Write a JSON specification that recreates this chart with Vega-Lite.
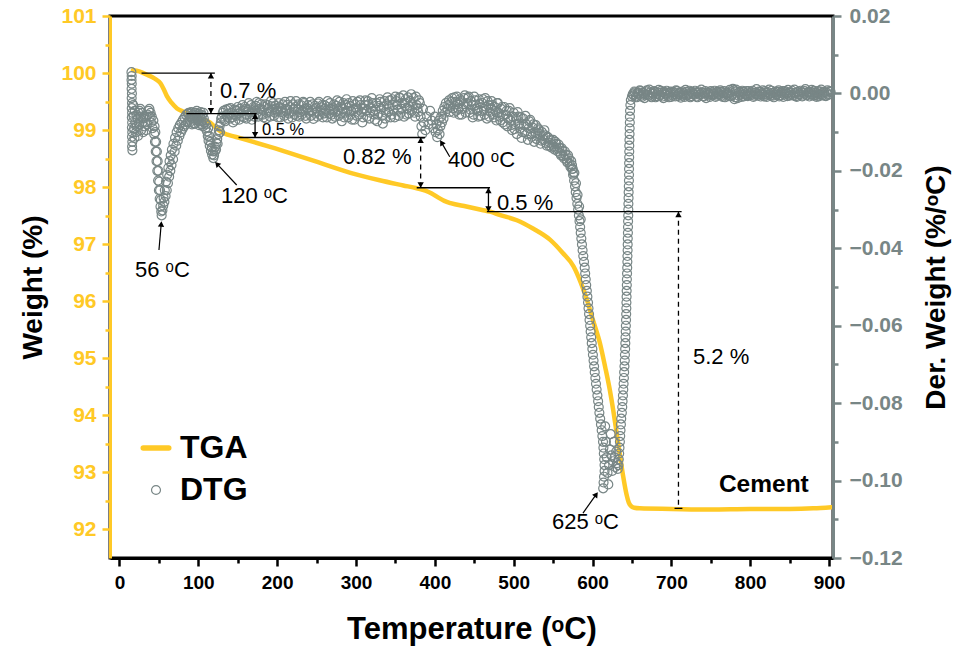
{
"$schema": "https://vega.github.io/schema/vega-lite/v6.json",
"width": 723, "height": 542,
"autosize": {"type": "none"},
"padding": {"left": 110, "top": 16, "right": 124, "bottom": 100},
"background": "white",
"config": {"view": {"stroke": "black", "strokeWidth": 3}, "font": "Liberation Sans"},
"datasets": {
"tga": [{"T":17,"w":100.05},{"T":25,"w":100.03},{"T":35,"w":99.97},{"T":45,"w":99.9},{"T":52,"w":99.82},{"T":56,"w":99.72},{"T":60,"w":99.6},{"T":66,"w":99.48},{"T":73,"w":99.38},{"T":80,"w":99.33},{"T":86,"w":99.3},{"T":95,"w":99.25},{"T":103,"w":99.21},{"T":110,"w":99.17},{"T":115,"w":99.13},{"T":120,"w":99.07},{"T":125,"w":99.01},{"T":130,"w":98.96},{"T":137,"w":98.92},{"T":145,"w":98.89},{"T":153,"w":98.86},{"T":190,"w":98.71},{"T":229,"w":98.54},{"T":260,"w":98.4},{"T":293,"w":98.25},{"T":330,"w":98.12},{"T":360,"w":98.03},{"T":377,"w":97.98},{"T":388,"w":97.94},{"T":396,"w":97.89},{"T":404,"w":97.82},{"T":412,"w":97.76},{"T":420,"w":97.72},{"T":440,"w":97.66},{"T":460,"w":97.6},{"T":470,"w":97.57},{"T":483,"w":97.51},{"T":504,"w":97.42},{"T":525,"w":97.27},{"T":546,"w":97.08},{"T":562,"w":96.85},{"T":576,"w":96.61},{"T":585,"w":96.33},{"T":593,"w":96.02},{"T":601,"w":95.65},{"T":609.5,"w":95.26},{"T":616,"w":94.85},{"T":622,"w":94.44},{"T":626.5,"w":94.07},{"T":630.6,"w":93.69},{"T":635,"w":93.28},{"T":639,"w":92.92},{"T":643,"w":92.62},{"T":646,"w":92.47},{"T":649,"w":92.41},{"T":653,"w":92.38},{"T":660,"w":92.37},{"T":700,"w":92.36},{"T":750,"w":92.35},{"T":800,"w":92.36},{"T":850,"w":92.36},{"T":880,"w":92.37},{"T":903,"w":92.39}],
"dtg": [
{"T":15.2,"d":0.0055},{"T":15.5,"d":0.0045},{"T":15.3,"d":0.0035},{"T":15.6,"d":0.0025},{"T":15.4,"d":0.0012},{"T":15.8,"d":0.0},{"T":15.5,"d":-0.0012},{"T":15.9,"d":-0.0025},{"T":15.6,"d":-0.0038},{"T":16.0,"d":-0.005},{"T":15.7,"d":-0.0062},{"T":16.1,"d":-0.0075},{"T":15.8,"d":-0.0088},{"T":16.2,"d":-0.01},{"T":15.9,"d":-0.0112},{"T":16.3,"d":-0.0125},{"T":16.0,"d":-0.0137},{"T":16.4,"d":-0.0147},
{"T":17.5,"d":-0.003},{"T":18,"d":-0.006},{"T":18.5,"d":-0.009},{"T":19,"d":-0.0115},{"T":19.5,"d":-0.0045},{"T":20,"d":-0.0075},{"T":21,"d":-0.01},{"T":21.5,"d":-0.0055},{"T":22,"d":-0.0085},{"T":23,"d":-0.0065},{"T":23.5,"d":-0.011},{"T":24,"d":-0.005},{"T":25,"d":-0.008},{"T":25.5,"d":-0.0045},{"T":26.5,"d":-0.004},{"T":27,"d":-0.006},{"T":27.5,"d":-0.0095},{"T":28.5,"d":-0.005},{"T":29,"d":-0.0075},{"T":30,"d":-0.01},{"T":30.5,"d":-0.0065},{"T":31.5,"d":-0.0085},{"T":32,"d":-0.006},{"T":33,"d":-0.0075},{"T":34,"d":-0.0095},{"T":34.5,"d":-0.006},{"T":35.5,"d":-0.008},{"T":36,"d":-0.0055},{"T":37,"d":-0.0045},{"T":38,"d":-0.004},{"T":38.5,"d":-0.006},{"T":39.5,"d":-0.005},{"T":40,"d":-0.0075},{"T":41,"d":-0.006},{"T":42,"d":-0.009},{"T":43,"d":-0.007},
{"T":44,"d":-0.0105},{"T":44.5,"d":-0.0085},{"T":45,"d":-0.0125},{"T":45.5,"d":-0.01},{"T":46,"d":-0.015},{"T":46.5,"d":-0.0125},{"T":47,"d":-0.0175},{"T":47.5,"d":-0.015},{"T":48,"d":-0.02},{"T":48.5,"d":-0.0175},{"T":49,"d":-0.0225},{"T":49.5,"d":-0.02},{"T":50,"d":-0.025},{"T":50.5,"d":-0.0228},{"T":51,"d":-0.0272},{"T":51.5,"d":-0.025},{"T":52,"d":-0.0292},{"T":52.5,"d":-0.0275},{"T":53,"d":-0.0305},{"T":53.5,"d":-0.0315},{"T":54.5,"d":-0.0302},
{"T":55.5,"d":-0.029},{"T":56,"d":-0.027},{"T":57,"d":-0.028},{"T":57.5,"d":-0.025},{"T":58.5,"d":-0.0265},{"T":59,"d":-0.0228},{"T":60,"d":-0.025},{"T":60.5,"d":-0.021},{"T":61.5,"d":-0.0232},{"T":62,"d":-0.0192},{"T":63,"d":-0.0215},{"T":63.5,"d":-0.0175},{"T":64.5,"d":-0.02},{"T":65,"d":-0.016},{"T":66,"d":-0.0185},{"T":66.5,"d":-0.0145},{"T":68,"d":-0.017},{"T":68.5,"d":-0.013},{"T":70,"d":-0.015},{"T":70.5,"d":-0.0115},{"T":72,"d":-0.0135},{"T":72.5,"d":-0.01},{"T":74,"d":-0.0122},{"T":74.5,"d":-0.009},{"T":76,"d":-0.011},{"T":76.5,"d":-0.0082},{"T":78,"d":-0.01},{"T":78.5,"d":-0.0075},{"T":80,"d":-0.0092},{"T":80.5,"d":-0.0068},{"T":82,"d":-0.0085},{"T":82.5,"d":-0.0062},{"T":84,"d":-0.008},{"T":84.5,"d":-0.0055},{"T":86,"d":-0.0075},{"T":86.5,"d":-0.0052},
{"T":88,"d":-0.005},{"T":88.5,"d":-0.0068},{"T":89,"d":-0.0075},{"T":90,"d":-0.006},{"T":90.5,"d":-0.0052},{"T":91,"d":-0.0048},{"T":92,"d":-0.008},{"T":92.5,"d":-0.0062},{"T":93,"d":-0.0055},{"T":94,"d":-0.0068},{"T":94.5,"d":-0.0078},{"T":95,"d":-0.005},{"T":96,"d":-0.0078},{"T":96.5,"d":-0.005},{"T":97,"d":-0.0058},{"T":98,"d":-0.0045},{"T":98.5,"d":-0.0064},{"T":99,"d":-0.007},{"T":100,"d":-0.0052},{"T":100.5,"d":-0.0072},{"T":101,"d":-0.0082},{"T":102,"d":-0.006},{"T":102.5,"d":-0.0055},{"T":103,"d":-0.0048},{"T":104,"d":-0.0072},{"T":104.5,"d":-0.008},{"T":105,"d":-0.0056},{"T":106,"d":-0.0085},{"T":106.5,"d":-0.005},{"T":107,"d":-0.0065},{"T":108,"d":-0.0075},
{"T":109,"d":-0.009},{"T":110,"d":-0.008},{"T":111,"d":-0.0098},{"T":112,"d":-0.011},{"T":112.5,"d":-0.009},{"T":113,"d":-0.0122},{"T":114,"d":-0.011},{"T":114.5,"d":-0.0135},{"T":115.5,"d":-0.0125},{"T":116,"d":-0.0148},{"T":117,"d":-0.014},{"T":117.5,"d":-0.0158},{"T":118.5,"d":-0.015},{"T":119,"d":-0.0167},{"T":120,"d":-0.016},{"T":121,"d":-0.015},{"T":121.5,"d":-0.0138},{"T":122.5,"d":-0.0145},{"T":123,"d":-0.0128},{"T":124,"d":-0.0118},{"T":124.5,"d":-0.013},{"T":125.5,"d":-0.0105},{"T":126,"d":-0.0095},{"T":127,"d":-0.0085},{"T":127.5,"d":-0.01},{"T":128.5,"d":-0.0075},{"T":129,"d":-0.0065},
{"T":130,"d":-0.006},{"T":132,"d":-0.0045},{"T":134,"d":-0.0072},{"T":136,"d":-0.0055},{"T":138,"d":-0.004},{"T":140,"d":-0.0065},{"T":142,"d":-0.005},{"T":144,"d":-0.0075},{"T":146,"d":-0.0042},{"T":148,"d":-0.0058},{"T":150,"d":-0.0035},{"T":152,"d":-0.0068},{"T":154,"d":-0.0048},{"T":156,"d":-0.003},{"T":158,"d":-0.0062},{"T":160,"d":-0.004},{"T":162,"d":-0.0055},{"T":164,"d":-0.0025},{"T":166,"d":-0.005},{"T":168,"d":-0.0068},{"T":170,"d":-0.0035},{"T":172,"d":-0.0045},{"T":174,"d":-0.0022},{"T":176,"d":-0.006},{"T":178,"d":-0.004},{"T":180,"d":-0.0028},{"T":182,"d":-0.0055},{"T":184,"d":-0.0035},{"T":186,"d":-0.0065},{"T":188,"d":-0.003},{"T":190,"d":-0.0048},{"T":192,"d":-0.002},{"T":194,"d":-0.0042},{"T":196,"d":-0.0058},{"T":198,"d":-0.0032},{"T":200,"d":-0.0045},{"T":202,"d":-0.0025},{"T":204,"d":-0.0062},{"T":206,"d":-0.0038},{"T":208,"d":-0.005},{"T":210,"d":-0.0022},{"T":212,"d":-0.004},{"T":214,"d":-0.0065},{"T":216,"d":-0.0035},{"T":218,"d":-0.0048},{"T":220,"d":-0.0028},{"T":222,"d":-0.0055},{"T":224,"d":-0.002},{"T":226,"d":-0.0042},{"T":228,"d":-0.006},{"T":230,"d":-0.003},{"T":232,"d":-0.0045},{"T":234,"d":-0.0025},{"T":236,"d":-0.0058},{"T":238,"d":-0.0038},{"T":240,"d":-0.005},{"T":242,"d":-0.0022},{"T":244,"d":-0.0044},{"T":246,"d":-0.0066},{"T":248,"d":-0.0032},{"T":250,"d":-0.0048},{"T":252,"d":-0.0026},{"T":254,"d":-0.0055},{"T":256,"d":-0.0036},{"T":258,"d":-0.0062},{"T":260,"d":-0.003},{"T":262,"d":-0.0045},{"T":264,"d":-0.002},{"T":266,"d":-0.0052},{"T":268,"d":-0.004},{"T":270,"d":-0.0065},{"T":272,"d":-0.0028},{"T":274,"d":-0.0048},{"T":276,"d":-0.0018},{"T":278,"d":-0.0058},{"T":280,"d":-0.0035},{"T":282,"d":-0.0072},{"T":284,"d":-0.0025},{"T":286,"d":-0.005},{"T":288,"d":-0.0015},{"T":290,"d":-0.0062},{"T":292,"d":-0.0032},{"T":294,"d":-0.0045},{"T":296,"d":-0.002},{"T":298,"d":-0.0068},{"T":300,"d":-0.0038},{"T":302,"d":-0.0022},{"T":304,"d":-0.0055},{"T":306,"d":-0.003},{"T":308,"d":-0.0075},{"T":310,"d":-0.004},{"T":312,"d":-0.0018},{"T":314,"d":-0.006},{"T":316,"d":-0.0028},{"T":318,"d":-0.005},{"T":320,"d":-0.0012},{"T":322,"d":-0.0045},{"T":324,"d":-0.0068},{"T":326,"d":-0.0025},{"T":328,"d":-0.0055},{"T":330,"d":-0.0015},{"T":332,"d":-0.004},{"T":334,"d":-0.0078},{"T":336,"d":-0.002},{"T":338,"d":-0.005},{"T":340,"d":-0.001},{"T":342,"d":-0.0035},{"T":344,"d":-0.0062},{"T":346,"d":-0.0015},{"T":348,"d":-0.0045},{"T":350,"d":-0.0008},{"T":352,"d":-0.003},{"T":354,"d":-0.0058},{"T":356,"d":-0.0012},{"T":358,"d":-0.004},{"T":360,"d":-0.0005},{"T":362,"d":-0.0025},{"T":364,"d":-0.0055},{"T":366,"d":-0.001},{"T":368,"d":-0.0035},{"T":370,"d":-0.0002},{"T":372,"d":-0.0028},{"T":374,"d":-0.005},{"T":376,"d":-0.0008},{"T":378,"d":-0.0038},{"T":380,"d":-0.0018},
{"T":131,"d":-0.005},{"T":133,"d":-0.0068},{"T":135,"d":-0.0042},{"T":137,"d":-0.006},{"T":139,"d":-0.0052},{"T":141,"d":-0.0038},{"T":143,"d":-0.0062},{"T":145,"d":-0.0055},{"T":147,"d":-0.007},{"T":149,"d":-0.0045},{"T":151,"d":-0.0052},{"T":153,"d":-0.004},{"T":155,"d":-0.006},{"T":157,"d":-0.0045},{"T":159,"d":-0.0035},{"T":161,"d":-0.0065},{"T":163,"d":-0.0042},{"T":165,"d":-0.0058},{"T":167,"d":-0.003},{"T":169,"d":-0.0048},{"T":171,"d":-0.006},{"T":173,"d":-0.0032},{"T":175,"d":-0.005},{"T":177,"d":-0.0025},{"T":179,"d":-0.0055},{"T":181,"d":-0.0042},{"T":183,"d":-0.0062},{"T":185,"d":-0.0028},{"T":187,"d":-0.005},{"T":189,"d":-0.0038},{"T":191,"d":-0.006},{"T":193,"d":-0.0033},{"T":195,"d":-0.0025},{"T":197,"d":-0.005},{"T":199,"d":-0.004},{"T":201,"d":-0.0062},{"T":203,"d":-0.0035},{"T":205,"d":-0.0048},{"T":207,"d":-0.0028},{"T":209,"d":-0.0058},{"T":211,"d":-0.0045},{"T":213,"d":-0.003},{"T":215,"d":-0.0052},{"T":217,"d":-0.002},{"T":219,"d":-0.0062},{"T":221,"d":-0.004},{"T":223,"d":-0.0035},{"T":225,"d":-0.0058},{"T":227,"d":-0.0028},{"T":229,"d":-0.0048},{"T":231,"d":-0.0055},{"T":233,"d":-0.0022},{"T":235,"d":-0.004},{"T":237,"d":-0.0065},{"T":239,"d":-0.003},{"T":241,"d":-0.0045},{"T":243,"d":-0.0058},{"T":245,"d":-0.0028},{"T":247,"d":-0.005},{"T":249,"d":-0.0038},{"T":251,"d":-0.006},{"T":253,"d":-0.0022},{"T":255,"d":-0.0045},{"T":257,"d":-0.003},{"T":259,"d":-0.0052},{"T":261,"d":-0.004},{"T":263,"d":-0.0062},{"T":265,"d":-0.0035},{"T":267,"d":-0.0025},{"T":269,"d":-0.0055},{"T":271,"d":-0.0042},{"T":273,"d":-0.006},{"T":275,"d":-0.0032},{"T":277,"d":-0.0045},{"T":279,"d":-0.0022},{"T":281,"d":-0.0052},{"T":283,"d":-0.004},{"T":285,"d":-0.0062},{"T":287,"d":-0.003},{"T":289,"d":-0.0045},{"T":291,"d":-0.0025},{"T":293,"d":-0.0055},{"T":295,"d":-0.0068},{"T":297,"d":-0.004},{"T":299,"d":-0.0028},{"T":301,"d":-0.0058},{"T":303,"d":-0.0042},{"T":305,"d":-0.0018},{"T":307,"d":-0.0048},{"T":309,"d":-0.0062},{"T":311,"d":-0.003},{"T":313,"d":-0.0045},{"T":315,"d":-0.002},{"T":317,"d":-0.0065},{"T":319,"d":-0.0038},{"T":321,"d":-0.0025},{"T":323,"d":-0.0055},{"T":325,"d":-0.0042},{"T":327,"d":-0.0072},{"T":329,"d":-0.0032},{"T":331,"d":-0.0022},{"T":333,"d":-0.0058},{"T":335,"d":-0.0035},{"T":337,"d":-0.0065},{"T":339,"d":-0.0028},{"T":341,"d":-0.0048},{"T":343,"d":-0.0018},{"T":345,"d":-0.0055},{"T":347,"d":-0.003},{"T":349,"d":-0.0062},{"T":351,"d":-0.002},{"T":353,"d":-0.0042},{"T":355,"d":-0.001},{"T":357,"d":-0.005},{"T":359,"d":-0.0025},{"T":361,"d":-0.006},{"T":363,"d":-0.0015},{"T":365,"d":-0.0038},{"T":367,"d":-0.0052},{"T":369,"d":-0.002},{"T":371,"d":-0.0045},{"T":373,"d":-0.0012},{"T":375,"d":-0.006},{"T":377,"d":-0.003},{"T":379,"d":-0.0048},{"T":381,"d":-0.0025},
{"T":382,"d":-0.006},{"T":383,"d":-0.0085},{"T":384,"d":-0.0105},{"T":385,"d":-0.004},{"T":386,"d":-0.0075},{"T":388,"d":-0.0095},{"T":390,"d":-0.006},{"T":392,"d":-0.008},{"T":394,"d":-0.0045},{"T":396,"d":-0.007},{"T":398,"d":-0.009},{"T":400,"d":-0.006},{"T":401,"d":-0.01},{"T":402,"d":-0.008},{"T":403,"d":-0.0113},{"T":404,"d":-0.0095},{"T":405,"d":-0.007},{"T":406,"d":-0.0105},{"T":407,"d":-0.0085},{"T":408,"d":-0.006},{"T":409,"d":-0.0075},{"T":410,"d":-0.0045},{"T":411,"d":-0.0065},{"T":412,"d":-0.0035},{"T":413,"d":-0.005},{"T":414,"d":-0.0025},{"T":416,"d":-0.004},
{"T":418,"d":-0.0018},{"T":420,"d":-0.0035},{"T":422,"d":-0.0012},{"T":424,"d":-0.005},{"T":426,"d":-0.0022},{"T":428,"d":-0.0008},{"T":430,"d":-0.004},{"T":432,"d":-0.0015},{"T":434,"d":-0.0055},{"T":436,"d":-0.0028},{"T":438,"d":-0.0005},{"T":440,"d":-0.0035},{"T":442,"d":-0.0012},{"T":444,"d":-0.005},{"T":446,"d":-0.002},{"T":448,"d":-0.0062},{"T":450,"d":-0.0008},{"T":452,"d":-0.003},{"T":454,"d":-0.0045},{"T":456,"d":-0.0015},{"T":458,"d":-0.0058},{"T":460,"d":-0.0025},{"T":462,"d":-0.004},{"T":464,"d":-0.0012},{"T":466,"d":-0.0065},{"T":468,"d":-0.003},{"T":470,"d":-0.0048},{"T":472,"d":-0.002},{"T":474,"d":-0.0055},{"T":476,"d":-0.0035},{"T":478,"d":-0.007},
{"T":417,"d":-0.003},{"T":419,"d":-0.0048},{"T":421,"d":-0.0022},{"T":423,"d":-0.0038},{"T":425,"d":-0.001},{"T":427,"d":-0.0045},{"T":429,"d":-0.0028},{"T":431,"d":-0.0055},{"T":433,"d":-0.002},{"T":435,"d":-0.004},{"T":437,"d":-0.0012},{"T":439,"d":-0.005},{"T":441,"d":-0.0025},{"T":443,"d":-0.0008},{"T":445,"d":-0.0042},{"T":447,"d":-0.003},{"T":449,"d":-0.0055},{"T":451,"d":-0.0018},{"T":453,"d":-0.004},{"T":455,"d":-0.006},{"T":457,"d":-0.0028},{"T":459,"d":-0.0045},{"T":461,"d":-0.0015},{"T":463,"d":-0.0055},{"T":465,"d":-0.0035},{"T":467,"d":-0.002},{"T":469,"d":-0.006},{"T":471,"d":-0.0038},{"T":473,"d":-0.003},{"T":475,"d":-0.0062},{"T":477,"d":-0.0045},{"T":479,"d":-0.0025},
{"T":480,"d":-0.0025},{"T":482,"d":-0.006},{"T":484,"d":-0.004},{"T":486,"d":-0.0075},{"T":488,"d":-0.0035},{"T":490,"d":-0.0055},{"T":492,"d":-0.0085},{"T":494,"d":-0.0045},{"T":496,"d":-0.007},{"T":498,"d":-0.0095},{"T":500,"d":-0.005},{"T":502,"d":-0.008},{"T":504,"d":-0.0105},{"T":506,"d":-0.006},{"T":508,"d":-0.009},{"T":510,"d":-0.0115},{"T":512,"d":-0.0065},{"T":514,"d":-0.01},{"T":516,"d":-0.008},{"T":518,"d":-0.012},{"T":520,"d":-0.0072},{"T":522,"d":-0.0105},{"T":524,"d":-0.0088},{"T":526,"d":-0.0125},{"T":528,"d":-0.0082},{"T":530,"d":-0.011},{"T":532,"d":-0.0095},{"T":534,"d":-0.013},{"T":536,"d":-0.01},{"T":538,"d":-0.012},{"T":540,"d":-0.0108},{"T":542,"d":-0.0135},{"T":544,"d":-0.0115},{"T":546,"d":-0.0128},{"T":548,"d":-0.014},{"T":550,"d":-0.012},{"T":552,"d":-0.0145},{"T":554,"d":-0.013},{"T":556,"d":-0.015},{"T":558,"d":-0.014},{"T":560,"d":-0.016},{"T":562,"d":-0.0148},{"T":564,"d":-0.0168},{"T":566,"d":-0.0158},{"T":568,"d":-0.0178},{"T":570,"d":-0.0168},{"T":572,"d":-0.019},{"T":574,"d":-0.0185},{"T":576,"d":-0.0205},
{"T":481,"d":-0.005},{"T":483,"d":-0.007},{"T":485,"d":-0.0035},{"T":487,"d":-0.0055},{"T":489,"d":-0.008},{"T":491,"d":-0.0045},{"T":493,"d":-0.0065},{"T":495,"d":-0.0038},{"T":497,"d":-0.0082},{"T":499,"d":-0.006},{"T":501,"d":-0.0092},{"T":503,"d":-0.0065},{"T":505,"d":-0.0048},{"T":507,"d":-0.0078},{"T":509,"d":-0.0062},{"T":511,"d":-0.01},{"T":513,"d":-0.0082},{"T":515,"d":-0.0058},{"T":517,"d":-0.0105},{"T":519,"d":-0.009},{"T":521,"d":-0.0068},{"T":523,"d":-0.0112},{"T":525,"d":-0.008},{"T":527,"d":-0.01},{"T":529,"d":-0.0118},{"T":531,"d":-0.009},{"T":533,"d":-0.0105},{"T":535,"d":-0.0122},{"T":537,"d":-0.011},{"T":539,"d":-0.0095},{"T":541,"d":-0.0128},{"T":543,"d":-0.0112},{"T":545,"d":-0.0135},{"T":547,"d":-0.012},{"T":549,"d":-0.0132},{"T":551,"d":-0.0138},{"T":553,"d":-0.0125},{"T":555,"d":-0.0142},{"T":557,"d":-0.0132},{"T":559,"d":-0.0155},{"T":561,"d":-0.0142},{"T":563,"d":-0.0162},{"T":565,"d":-0.015},{"T":567,"d":-0.0172},{"T":569,"d":-0.016},{"T":571,"d":-0.0182},{"T":573,"d":-0.0175},{"T":575,"d":-0.0195},
{"T":577,"d":-0.0205},{"T":579,"d":-0.0232},{"T":581,"d":-0.0262},{"T":583,"d":-0.0292},{"T":585,"d":-0.0325},
{"T":574,"d":-0.0195},{"T":575.3,"d":-0.021},{"T":576.6,"d":-0.0225},{"T":577.8,"d":-0.024},{"T":578.7,"d":-0.0255},{"T":579.7,"d":-0.027},{"T":580.7,"d":-0.0285},{"T":581.7,"d":-0.03},{"T":582.7,"d":-0.0315},{"T":583.5,"d":-0.033},{"T":584.3,"d":-0.0345},{"T":585.0,"d":-0.036},{"T":585.8,"d":-0.0375},{"T":586.6,"d":-0.039},{"T":587.4,"d":-0.0405},{"T":588.3,"d":-0.042},{"T":589.2,"d":-0.0435},{"T":590.1,"d":-0.045},{"T":590.7,"d":-0.0465},{"T":591.4,"d":-0.048},{"T":592.0,"d":-0.0495},{"T":592.8,"d":-0.051},{"T":593.5,"d":-0.0525},{"T":594.3,"d":-0.054},{"T":594.9,"d":-0.0555},{"T":595.6,"d":-0.057},{"T":596.2,"d":-0.0585},{"T":597.0,"d":-0.06},{"T":597.6,"d":-0.0615},{"T":598.3,"d":-0.063},{"T":599.0,"d":-0.0645},{"T":599.8,"d":-0.066},{"T":600.5,"d":-0.0675},{"T":601.3,"d":-0.069},{"T":602.0,"d":-0.0705},{"T":602.8,"d":-0.072},{"T":603.6,"d":-0.0735},{"T":604.4,"d":-0.075},{"T":605.2,"d":-0.0765},{"T":606.2,"d":-0.078},{"T":607.1,"d":-0.0795},{"T":607.9,"d":-0.081},{"T":608.7,"d":-0.0825},{"T":609.7,"d":-0.084},{"T":610.7,"d":-0.0855},{"T":611.6,"d":-0.087},{"T":612.5,"d":-0.0885},{"T":613.3,"d":-0.09},{"T":613.8,"d":-0.0915},{"T":614.3,"d":-0.093},{"T":614.8,"d":-0.0945},{"T":615.2,"d":-0.096},{"T":615.3,"d":-0.0975},{"T":614.6,"d":-0.099},{"T":614.0,"d":-0.1005},{"T":613.5,"d":-0.102},
{"T":616,"d":-0.086},{"T":617,"d":-0.09},{"T":618,"d":-0.094},{"T":619,"d":-0.098},{"T":620,"d":-0.101},{"T":621,"d":-0.096},{"T":622,"d":-0.092},{"T":623,"d":-0.088},{"T":624,"d":-0.0935},{"T":625,"d":-0.0975},{"T":626,"d":-0.095},{"T":627,"d":-0.09},{"T":628,"d":-0.094},{"T":629,"d":-0.0965},{"T":630,"d":-0.0925},{"T":631,"d":-0.0955},{"T":632,"d":-0.097},
{"T":632.8,"d":-0.096},{"T":633.3,"d":-0.0945},{"T":633.8,"d":-0.093},{"T":634.2,"d":-0.0915},{"T":634.7,"d":-0.09},{"T":635.1,"d":-0.0885},{"T":635.5,"d":-0.087},{"T":636.0,"d":-0.0855},{"T":636.4,"d":-0.084},{"T":637.2,"d":-0.0825},{"T":637.7,"d":-0.081},{"T":638.1,"d":-0.0795},{"T":638.6,"d":-0.078},{"T":639.0,"d":-0.0765},{"T":639.4,"d":-0.075},{"T":639.8,"d":-0.0735},{"T":640.1,"d":-0.072},{"T":640.5,"d":-0.0705},{"T":640.9,"d":-0.069},{"T":641.1,"d":-0.0675},{"T":641.4,"d":-0.066},{"T":641.6,"d":-0.0645},{"T":641.8,"d":-0.063},{"T":642.1,"d":-0.0615},{"T":642.3,"d":-0.06},{"T":642.5,"d":-0.0585},{"T":642.7,"d":-0.057},{"T":642.9,"d":-0.0555},{"T":643.0,"d":-0.054},{"T":643.2,"d":-0.0525},{"T":643.3,"d":-0.051},{"T":643.5,"d":-0.0495},{"T":643.6,"d":-0.048},{"T":643.8,"d":-0.0465},{"T":644.0,"d":-0.045},{"T":644.2,"d":-0.0435},{"T":644.3,"d":-0.042},{"T":644.5,"d":-0.0405},{"T":644.6,"d":-0.039},{"T":644.7,"d":-0.0375},{"T":644.9,"d":-0.036},{"T":645.0,"d":-0.0345},{"T":645.1,"d":-0.033},{"T":645.3,"d":-0.0315},{"T":645.4,"d":-0.03},{"T":645.5,"d":-0.0285},{"T":645.7,"d":-0.027},{"T":645.8,"d":-0.0255},{"T":646.0,"d":-0.024},{"T":646.2,"d":-0.0225},{"T":646.3,"d":-0.021},{"T":646.3,"d":-0.0195},{"T":646.4,"d":-0.018},{"T":646.5,"d":-0.0165},{"T":646.6,"d":-0.015},{"T":646.6,"d":-0.0135},{"T":646.8,"d":-0.012},{"T":647.0,"d":-0.0105},{"T":647.1,"d":-0.009},{"T":647.3,"d":-0.0075},{"T":647.4,"d":-0.006},{"T":647.6,"d":-0.0045},{"T":648.0,"d":-0.003},{"T":648.6,"d":-0.0017},{"T":650,"d":-0.0008},
{"T":652,"d":-0.0005},{"T":654,"d":0.0003},{"T":656,"d":-0.001},{"T":658,"d":0.0},{"T":660,"d":0.0008},{"T":662,"d":-0.0006},{"T":664,"d":0.0002},{"T":666,"d":-0.0012},{"T":668,"d":0.0005},{"T":670,"d":-0.0003},{"T":672,"d":0.001},{"T":674,"d":-0.0008},{"T":676,"d":0.0001},{"T":678,"d":0.0006},{"T":680,"d":-0.001},{"T":682,"d":-0.0002},{"T":684,"d":0.0009},{"T":686,"d":-0.0005},{"T":688,"d":0.0003},{"T":690,"d":-0.0012},{"T":692,"d":0.0},{"T":694,"d":0.0007},{"T":696,"d":-0.0006},{"T":698,"d":0.0002},{"T":700,"d":-0.0009},{"T":702,"d":0.0004},{"T":704,"d":-0.0002},{"T":706,"d":0.0008},{"T":708,"d":-0.0007},{"T":710,"d":0.0001},{"T":712,"d":-0.0011},{"T":714,"d":0.0005},{"T":716,"d":-0.0003},{"T":718,"d":0.0009},{"T":720,"d":-0.0006},{"T":722,"d":0.0},{"T":724,"d":-0.001},{"T":726,"d":0.0004},{"T":728,"d":-0.0002},{"T":730,"d":0.0007},{"T":732,"d":-0.0008},{"T":734,"d":0.0002},{"T":736,"d":-0.0004},{"T":738,"d":0.001},{"T":740,"d":-0.0007},{"T":742,"d":0.0001},{"T":744,"d":-0.0012},{"T":746,"d":0.0003},{"T":748,"d":-0.0003},{"T":750,"d":0.0006},{"T":752,"d":-0.0005},{"T":754,"d":0.0},{"T":756,"d":-0.0009},{"T":758,"d":0.0004},{"T":760,"d":-0.0002},{"T":762,"d":0.0008},{"T":764,"d":-0.0006},{"T":766,"d":0.0001},{"T":768,"d":-0.001},{"T":770,"d":0.0003},{"T":772,"d":-0.0004},{"T":774,"d":0.0009},{"T":776,"d":-0.0007},{"T":778,"d":0.0012},{"T":780,"d":-0.0015},{"T":782,"d":0.001},{"T":784,"d":-0.0012},{"T":786,"d":0.0004},{"T":788,"d":-0.0003},{"T":790,"d":0.0007},{"T":792,"d":-0.0008},{"T":794,"d":0.0},{"T":796,"d":-0.0005},{"T":798,"d":0.0006},{"T":800,"d":-0.0002},{"T":802,"d":0.0003},{"T":804,"d":-0.0009},{"T":806,"d":0.0001},{"T":808,"d":0.0011},{"T":810,"d":-0.0006},{"T":812,"d":0.0004},{"T":814,"d":-0.0003},{"T":816,"d":0.0008},{"T":818,"d":-0.0008},{"T":820,"d":0.0002},{"T":822,"d":-0.0004},{"T":824,"d":0.001},{"T":826,"d":-0.0006},{"T":828,"d":0.0001},{"T":830,"d":-0.001},{"T":832,"d":0.0005},{"T":834,"d":-0.0002},{"T":836,"d":0.0008},{"T":838,"d":-0.0005},{"T":840,"d":0.0003},{"T":842,"d":-0.0009},{"T":844,"d":0.0006},{"T":846,"d":-0.0001},{"T":848,"d":0.0009},{"T":850,"d":-0.0006},{"T":852,"d":0.0002},{"T":854,"d":-0.0004},{"T":856,"d":0.001},{"T":858,"d":-0.0007},{"T":860,"d":0.0003},{"T":862,"d":-0.0003},{"T":864,"d":0.0007},{"T":866,"d":-0.0008},{"T":868,"d":0.0001},{"T":870,"d":0.0011},{"T":872,"d":-0.0005},{"T":874,"d":0.0004},{"T":876,"d":-0.0002},{"T":878,"d":0.0009},{"T":880,"d":-0.0006},{"T":882,"d":0.0002},{"T":884,"d":-0.0009},{"T":886,"d":0.0006},{"T":888,"d":-0.0003},{"T":890,"d":0.001},{"T":892,"d":-0.0005},{"T":894,"d":0.0003},{"T":896,"d":-0.0007},{"T":898,"d":0.0008},{"T":900,"d":-0.0002},{"T":902,"d":0.0004},
{"T":651,"d":-0.0002},{"T":653,"d":0.0005},{"T":655,"d":-0.0008},{"T":657,"d":0.0002},{"T":659,"d":-0.0004},{"T":661,"d":0.0006},{"T":663,"d":-0.0009},{"T":665,"d":0.0001},{"T":667,"d":-0.0003},{"T":669,"d":0.0008},{"T":671,"d":-0.0006},{"T":673,"d":0.0003},{"T":675,"d":-0.001},{"T":677,"d":-0.0001},{"T":679,"d":0.0004},{"T":681,"d":-0.0007},{"T":683,"d":0.0002},{"T":685,"d":-0.0004},{"T":687,"d":0.0007},{"T":689,"d":-0.0008},{"T":691,"d":0.0004},{"T":693,"d":-0.0003},{"T":695,"d":0.0001},{"T":697,"d":-0.001},{"T":699,"d":0.0005},{"T":701,"d":-0.0004},{"T":703,"d":0.0002},{"T":705,"d":-0.0008},{"T":707,"d":0.0006},{"T":709,"d":-0.0002},{"T":711,"d":0.0003},{"T":713,"d":-0.0006},{"T":715,"d":0.0001},{"T":717,"d":-0.0009},{"T":719,"d":0.0004},{"T":721,"d":-0.0003},{"T":723,"d":0.0007},{"T":725,"d":-0.0007},{"T":727,"d":0.0001},{"T":729,"d":-0.0004},{"T":731,"d":0.0003},{"T":733,"d":-0.001},{"T":735,"d":0.0005},{"T":737,"d":-0.0002},{"T":739,"d":0.0002},{"T":741,"d":-0.0008},{"T":743,"d":0.0006},{"T":745,"d":-0.0004},{"T":747,"d":0.0001},{"T":749,"d":-0.0009},{"T":751,"d":0.0003},{"T":753,"d":-0.0002},{"T":755,"d":0.0007},{"T":757,"d":-0.0006},{"T":759,"d":0.0002},{"T":761,"d":-0.0004},{"T":763,"d":0.0004},{"T":765,"d":-0.0009},{"T":767,"d":0.0006},{"T":769,"d":-0.0002},{"T":771,"d":0.0001},{"T":773,"d":-0.0007},{"T":775,"d":0.0003},{"T":777,"d":-0.0004},{"T":779,"d":0.0008},{"T":781,"d":-0.001},{"T":783,"d":0.0005},{"T":785,"d":-0.0006},{"T":787,"d":0.0002},{"T":789,"d":-0.0009},{"T":791,"d":0.0004},{"T":793,"d":-0.0003},{"T":795,"d":0.0006},{"T":797,"d":-0.0007},{"T":799,"d":0.0001},{"T":801,"d":-0.0004},{"T":803,"d":0.0007},{"T":805,"d":-0.0006},{"T":807,"d":0.0002},{"T":809,"d":-0.0003},{"T":811,"d":0.0005},{"T":813,"d":-0.0008},{"T":815,"d":0.0001},{"T":817,"d":-0.0004},{"T":819,"d":0.0006},{"T":821,"d":-0.0009},{"T":823,"d":0.0003},{"T":825,"d":-0.0002},{"T":827,"d":0.0007},{"T":829,"d":-0.0006},{"T":831,"d":0.0002},{"T":833,"d":-0.0004},{"T":835,"d":0.0004},{"T":837,"d":-0.0008},{"T":839,"d":0.0001},{"T":841,"d":0.0006},{"T":843,"d":-0.0003},{"T":845,"d":0.0003},{"T":847,"d":-0.0007},{"T":849,"d":0.0002},{"T":851,"d":-0.0004},{"T":853,"d":0.0007},{"T":855,"d":-0.0006},{"T":857,"d":0.0001},{"T":859,"d":-0.0009},{"T":861,"d":0.0005},{"T":863,"d":-0.0002},{"T":865,"d":0.0003},{"T":867,"d":-0.0006},{"T":869,"d":0.0006},{"T":871,"d":-0.0004},{"T":873,"d":0.0002},{"T":875,"d":-0.0008},{"T":877,"d":0.0004},{"T":879,"d":-0.0003},{"T":881,"d":0.0007},{"T":883,"d":-0.0005},{"T":885,"d":0.0001},{"T":887,"d":-0.0008},{"T":889,"d":0.0005},{"T":891,"d":-0.0002},{"T":893,"d":0.0004},{"T":895,"d":-0.0006},{"T":897,"d":0.0002},{"T":899,"d":-0.0004},{"T":901,"d":0.0006}
],
"hlines": [{"T":28,"T2":121,"w":100.0},{"T":85,"T2":174,"w":99.29},{"T":151,"T2":387.5,"w":98.87},{"T":377,"T2":470,"w":97.99},{"T":466,"T2":713,"w":97.57},{"T":704,"T2":714,"w":92.37}],
"dashed2": [{"T":116,"w":100.0,"w2":99.29},{"T":382,"w":98.87,"w2":97.99}],
"dashed1": [{"T":709,"w":97.57,"w2":92.37}],
"solid2": [{"T":172,"w":99.29,"w2":98.87},{"T":468,"w":97.99,"w2":97.57}],
"txt22": [{"s":"0.7 %","T":127.5,"w":99.69},{"s":"0.82 %","T":283.5,"w":98.53},{"s":"400 ᵒC","T":416.7,"w":98.48},{"s":"0.5 %","T":478.8,"w":97.72},{"s":"5.2 %","T":727.4,"w":95.02},{"s":"56 ᵒC","T":19.7,"w":96.55},{"s":"120 ᵒC","T":128.7,"w":97.84},{"s":"625 ᵒC","T":548.5,"w":92.13}],
"txt16": [{"s":"0.5 %","T":180.7,"w":99.0}],
"txtBold": [{"s":"Cement","T":760.3,"w":92.78}],
"p56": [{"T":52.94,"w":97.354,"T2":50.1,"w2":96.898}],
"p120": [{"T":123.7,"w":98.408,"T2":148.66,"w2":98.038}],
"p400": [{"T":408.5,"w":98.781,"T2":418.9,"w2":98.534}],
"p625": [{"T":604.7,"w":92.614,"T2":587.9,"w2":92.288}]
},
"encoding": {
"x": {"field": "T", "type": "quantitative", "scale": {"domain": [-12, 905], "nice": false, "zero": false},
"axis": {"title": "Temperature (ᵒC)", "values": [0,50,100,150,200,250,300,350,400,450,500,550,600,650,700,750,800,850,900],
"labelExpr": "datum.value % 100 === 0 ? datum.label : ''",
"tickSize": {"condition": {"test": "datum.value % 100 === 0", "value": 8}, "value": 5},
"domainColor": "black", "domainWidth": 3, "tickColor": "black", "tickWidth": 2.5, "grid": false,
"labelFont": "Liberation Sans", "labelFontWeight": "bold", "labelFontSize": 19, "labelColor": "black", "labelPadding": 7, "labelFlush": false, "labelOverlap": false,
"titleFont": "Liberation Sans", "titleFontWeight": "bold", "titleFontSize": 31, "titleColor": "black", "titlePadding": 22}}
},
"layer": [
{
"data": {"name": "tga"},
"mark": {"type": "line", "strokeWidth": 4.5, "strokeCap": "round", "interpolate": "monotone"},
"encoding": {
"y": {"field": "w", "type": "quantitative", "scale": {"domain": [91.5, 101], "nice": false, "zero": false},
"axis": {"orient": "left", "title": "Weight (%)", "values": [92,92.5,93,93.5,94,94.5,95,95.5,96,96.5,97,97.5,98,98.5,99,99.5,100,100.5,101],
"format": ".0f", "labelExpr": "datum.value % 1 === 0 ? datum.label : ''",
"tickSize": {"condition": {"test": "datum.value % 1 === 0", "value": 8}, "value": 5},
"domainColor": "#FFC926", "domainWidth": 3, "tickColor": "#FFC926", "tickWidth": 2.5, "grid": false, "zindex": 1,
"labelFont": "Liberation Sans", "labelFontWeight": "bold", "labelFontSize": 21, "labelColor": "#FFC926", "labelPadding": 6, "labelOverlap": false,
"titleFont": "Liberation Sans", "titleFontWeight": "bold", "titleFontSize": 28, "titleColor": "black", "titlePadding": 13}},
"color": {"datum": "TGA", "type": "nominal", "scale": {"domain": ["TGA", "DTG"], "range": ["#FFC926", "#788686"]},
"legend": {"orient": "none", "legendX": 30, "legendY": 416, "title": null, "padding": 0,
"labelFont": "Liberation Sans", "labelFontSize": 32, "labelFontWeight": "bold", "labelColor": "black", "labelOffset": 8, "rowPadding": 10,
"symbolType": "circle", "symbolSize": 650,
"encode": {"symbols": {"update": {
"shape": {"signal": "datum.value === 'TGA' ? 'stroke' : 'circle'"},
"size": {"signal": "datum.value === 'TGA' ? 650 : 80"},
"strokeWidth": {"signal": "datum.value === 'TGA' ? 5.5 : 1.2"},
"fill": {"signal": "datum.value === 'TGA' ? 'transparent' : 'white'"},
"stroke": {"signal": "datum.value === 'TGA' ? '#FFC926' : '#788686'"},
"strokeCap": {"value": "round"},
"opacity": {"value": 1}}}}}}
}
},
{
"data": {"name": "dtg"},
"mark": {"type": "point", "shape": "circle", "filled": false, "size": 80, "strokeWidth": 1.2, "opacity": 1},
"encoding": {
"y": {"field": "d", "type": "quantitative", "scale": {"domain": [-0.12, 0.02], "nice": false, "zero": false},
"axis": {"orient": "right", "title": "Der. Weight (%/ᵒC)", "values": [-0.12,-0.11,-0.1,-0.09,-0.08,-0.07,-0.06,-0.05,-0.04,-0.03,-0.02,-0.01,0,0.01,0.02],
"format": ".2f", "labelExpr": "abs(round(datum.value*100)) % 2 === 0 ? datum.label : ''",
"tickSize": {"condition": {"test": "abs(round(datum.value*100)) % 2 === 0", "value": 8}, "value": 5},
"domainColor": "#788686", "domainWidth": 3, "tickColor": "#788686", "tickWidth": 2.5, "grid": false, "zindex": 1,
"labelFont": "Liberation Sans", "labelFontWeight": "bold", "labelFontSize": 21, "labelColor": "#788686", "labelPadding": 8, "labelOverlap": false,
"titleFont": "Liberation Sans", "titleFontWeight": "bold", "titleFontSize": 28, "titleColor": "black", "titleAngle": 270, "titleBaseline": "top", "titlePadding": 20}},
"color": {"datum": "DTG", "type": "nominal"}
}
},
{
"encoding": {
"y": {"field": "w", "type": "quantitative", "scale": {"domain": [91.5, 101], "nice": false, "zero": false}, "axis": null}
},
"layer": [
{"data": {"name": "hlines"}, "mark": {"type": "rule", "color": "black", "strokeWidth": 1.3}, "encoding": {"x2": {"field": "T2"}}},
{"data": {"name": "dashed2"}, "layer": [
{"mark": {"type": "rule", "color": "black", "strokeWidth": 1.3, "strokeDash": [5, 4]}, "encoding": {"y2": {"field": "w2"}}},
{"mark": {"type": "point", "shape": "triangle-up", "filled": true, "color": "black", "size": 40, "opacity": 1, "yOffset": 2.7}},
{"mark": {"type": "point", "shape": "triangle-down", "filled": true, "color": "black", "size": 40, "opacity": 1, "yOffset": -2.7},
"encoding": {"y": {"field": "w2", "type": "quantitative", "scale": {"domain": [91.5, 101], "nice": false, "zero": false}, "axis": null}}}
]},
{"data": {"name": "dashed1"}, "layer": [
{"mark": {"type": "rule", "color": "black", "strokeWidth": 1.3, "strokeDash": [5, 4]}, "encoding": {"y2": {"field": "w2"}}},
{"mark": {"type": "point", "shape": "triangle-up", "filled": true, "color": "black", "size": 40, "opacity": 1, "yOffset": 2.7}}
]},
{"data": {"name": "solid2"}, "layer": [
{"mark": {"type": "rule", "color": "black", "strokeWidth": 1.3}, "encoding": {"y2": {"field": "w2"}}},
{"mark": {"type": "point", "shape": "triangle-up", "filled": true, "color": "black", "size": 40, "opacity": 1, "yOffset": 2.7}},
{"mark": {"type": "point", "shape": "triangle-down", "filled": true, "color": "black", "size": 40, "opacity": 1, "yOffset": -2.7},
"encoding": {"y": {"field": "w2", "type": "quantitative", "scale": {"domain": [91.5, 101], "nice": false, "zero": false}, "axis": null}}}
]},
{"data": {"name": "p56"}, "layer": [
{"mark": {"type": "rule", "color": "black", "strokeWidth": 1.2}, "encoding": {"x2": {"field": "T2"}, "y2": {"field": "w2"}}},
{"mark": {"type": "point", "shape": "triangle-up", "filled": true, "color": "black", "size": 40, "opacity": 1, "angle": 5}}
]},
{"data": {"name": "p120"}, "layer": [
{"mark": {"type": "rule", "color": "black", "strokeWidth": 1.2}, "encoding": {"x2": {"field": "T2"}, "y2": {"field": "w2"}}},
{"mark": {"type": "point", "shape": "triangle-up", "filled": true, "color": "black", "size": 40, "opacity": 1, "angle": -43}}
]},
{"data": {"name": "p400"}, "layer": [
{"mark": {"type": "rule", "color": "black", "strokeWidth": 1.2}, "encoding": {"x2": {"field": "T2"}, "y2": {"field": "w2"}}},
{"mark": {"type": "point", "shape": "triangle-up", "filled": true, "color": "black", "size": 40, "opacity": 1, "angle": -31}}
]},
{"data": {"name": "p625"}, "layer": [
{"mark": {"type": "rule", "color": "black", "strokeWidth": 1.2}, "encoding": {"x2": {"field": "T2"}, "y2": {"field": "w2"}}},
{"mark": {"type": "point", "shape": "triangle-up", "filled": true, "color": "black", "size": 40, "opacity": 1, "angle": 35.5}}
]},
{"data": {"name": "txt22"}, "mark": {"type": "text", "align": "left", "baseline": "middle", "font": "Liberation Sans", "fontSize": 22, "color": "black"}, "encoding": {"text": {"field": "s"}}},
{"data": {"name": "txt16"}, "mark": {"type": "text", "align": "left", "baseline": "middle", "font": "Liberation Sans", "fontSize": 16.5, "color": "black"}, "encoding": {"text": {"field": "s"}}},
{"data": {"name": "txtBold"}, "mark": {"type": "text", "align": "left", "baseline": "middle", "font": "Liberation Sans", "fontSize": 24.5, "fontWeight": "bold", "color": "black"}, "encoding": {"text": {"field": "s"}}}
]
}
],
"resolve": {"scale": {"y": "independent"}}
}
